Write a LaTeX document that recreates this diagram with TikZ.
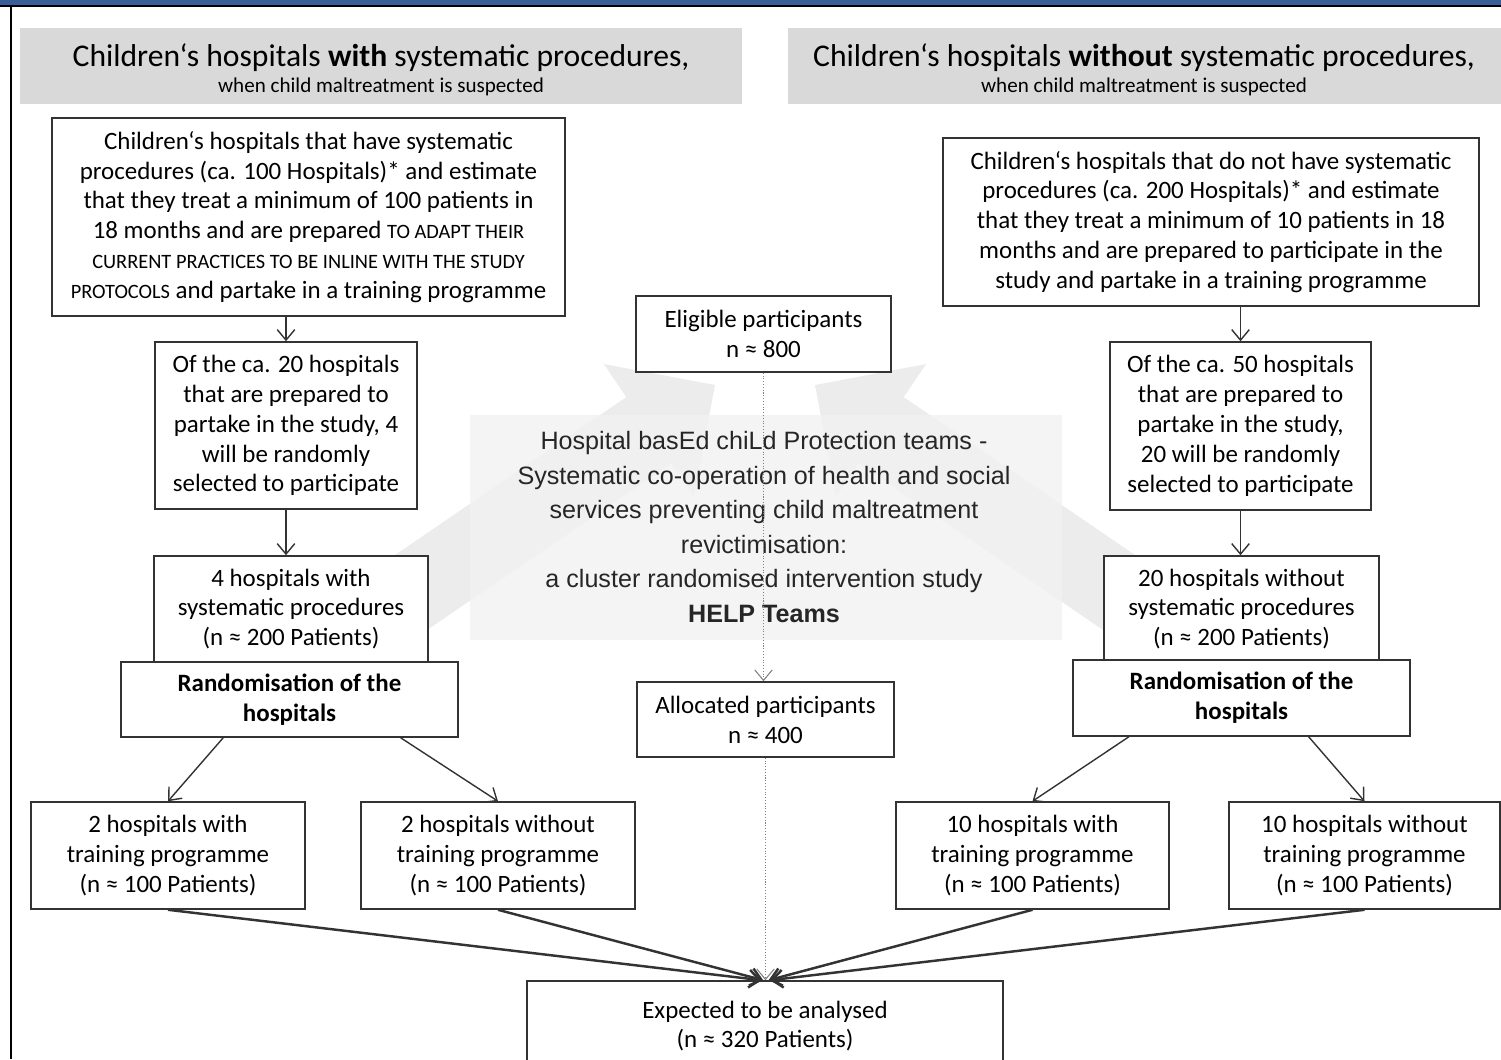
\documentclass[tikz,border=0pt]{standalone}
\usepackage{fontspec}
\setmainfont{Carlito}
\newfontfamily\arialfont{Liberation Sans}
\usetikzlibrary{arrows.meta}
\definecolor{framebl}{RGB}{58,94,154}
\definecolor{hdrgray}{RGB}{217,217,217}
\definecolor{boxline}{RGB}{51,51,51}
\definecolor{shadearrow}{RGB}{236,236,236}
\definecolor{shaderect}{RGB}{241,241,241}
\newcommand{\smallupper}[1]{{\fontsize{11.6}{17}\selectfont #1}}

\begin{document}
\begin{tikzpicture}[x=0.02cm, y=-0.02cm,
  box/.style={draw=boxline, line width=0.9pt, fill=white, align=center, inner sep=2pt,
    font=\fontsize{14.2}{17}\selectfont},
  hdr/.style={fill=hdrgray, align=center, minimum height=1.52cm, inner sep=0pt},
  arr/.style={draw=boxline, line width=0.8pt, -{Straight Barb[length=6pt,width=10pt]}},
  dots/.style={draw=gray, densely dotted, line width=0.6pt, -{Straight Barb[length=6pt,width=10pt]}},
  merge/.style={arr, line width=1.4pt}]
  \useasboundingbox (0,0) rectangle (1501,1059);

  % frame
  \fill[framebl] (0,0) rectangle (1501,5);
  \draw[line width=1pt] (0,6) -- (1501,6);
  \draw[line width=0.8pt] (11,6) -- (11,1059);

  % faint background arrows and study title
  \fill[shadearrow] (422.6,633) -- (671.5,463.1) -- (694,496.2) -- (715,385) -- (603.8,364) -- (626.3,397.1) -- (377.4,567) -- cycle;
  \fill[shadearrow] (1107.4,633) -- (858.5,463.1) -- (836,496.2) -- (815,385) -- (926.2,364) -- (903.7,397.1) -- (1152.6,567) -- cycle;
  \fill[shaderect, opacity=0.8] (470,415) rectangle (1062,640);
  \node[align=center, font=\arialfont\fontsize{14.3}{19.6}\selectfont, text=black!85] (title) at (764,527)
    {Hospital basEd chiLd Protection teams -\\
     Systematic co-operation of health  and social\\
     services preventing  child maltreatment\\
     revictimisation:\\
     a cluster  randomised intervention  study\\
     \textbf{HELP Teams}};

  % headers
  \fill[hdrgray] (20,28) rectangle (742,104);
  \fill[hdrgray] (788,28) rectangle (1501,104);
  \node[align=center, inner sep=0pt] (hdrL) at (381,70)
    {{\fontsize{18}{20}\selectfont Children‘s hospitals \textbf{with} systematic procedures,}\\[2.5pt]
     {\fontsize{12}{13}\selectfont when child maltreatment is suspected}};
  \node[align=center, inner sep=0pt] (hdrR) at (1144,70)
    {{\fontsize{18}{20}\selectfont Children‘s hospitals \textbf{without} systematic procedures,}\\[2.5pt]
     {\fontsize{12}{13}\selectfont when child maltreatment is suspected}};

  % left branch
  \node[box, minimum width=10.26cm, minimum height=3.96cm] (L1) at (308.5,217)
    {Children‘s hospitals that have systematic\\
     procedures (ca. 100 Hospitals)* and estimate\\
     that they treat a minimum  of 100 patients in\\
     18 months and are prepared \smallupper{TO ADAPT THEIR}\\
     \smallupper{CURRENT PRACTICES TO BE INLINE WITH THE STUDY}\\
     \smallupper{PROTOCOLS} and partake in a training programme};
  \node[box, minimum width=5.24cm, minimum height=3.34cm] (L2) at (286,425.5)
    {Of the ca. 20 hospitals\\ that are prepared to\\ partake in the study, 4\\
     will be randomly\\ selected to participate};
  \node[box, minimum width=5.48cm, minimum height=2.12cm] (L3) at (291,609)
    {4 hospitals with\\ systematic procedures\\ (n ≈ 200 Patients)};
  \node[box, minimum width=6.74cm, minimum height=1.5cm] (randL) at (289.5,699.5)
    {\textbf{Randomisation of the}\\ \textbf{hospitals}};
  \node[box, minimum width=5.48cm, minimum height=2.14cm] (L4a) at (168,855.5)
    {2 hospitals with\\ training programme\\ (n ≈ 100 Patients)};
  \node[box, minimum width=5.48cm, minimum height=2.14cm] (L4b) at (498,855.5)
    {2 hospitals without\\ training programme\\ (n ≈ 100 Patients)};

  % right branch
  \node[box, minimum width=10.72cm, minimum height=3.36cm] (R1) at (1211,222)
    {Children‘s hospitals that do not have systematic\\
     procedures (ca. 200 Hospitals)* and estimate\\
     that they treat a minimum  of 10 patients in 18\\
     months and are prepared to participate in the\\
     study and partake in a training programme};
  \node[box, minimum width=5.22cm, minimum height=3.36cm] (R2) at (1240.5,426)
    {Of the ca. 50 hospitals\\ that are prepared to\\ partake in the study,\\
     20 will be randomly\\ selected to participate};
  \node[box, minimum width=5.5cm, minimum height=2.12cm] (R3) at (1241.5,609)
    {20 hospitals without\\ systematic procedures\\ (n ≈ 200 Patients)};
  \node[box, minimum width=6.74cm, minimum height=1.52cm] (randR) at (1241.5,698)
    {\textbf{Randomisation of the}\\ \textbf{hospitals}};
  \node[box, minimum width=5.46cm, minimum height=2.14cm] (R4a) at (1032.5,855.5)
    {10 hospitals with\\ training programme\\ (n ≈ 100 Patients)};
  \node[box, minimum width=5.42cm, minimum height=2.14cm] (R4b) at (1364.5,855.5)
    {10 hospitals without\\ training programme\\ (n ≈ 100 Patients)};

  % middle column
  \node[box, minimum width=5.1cm, minimum height=1.52cm] (elig) at (763.5,334)
    {Eligible participants\\ n ≈ 800};
  \node[box, minimum width=5.14cm, minimum height=1.5cm] (alloc) at (765.5,719.5)
    {Allocated participants\\ n ≈ 400};
  \node[box, minimum width=9.52cm, minimum height=1.8cm] (expect) at (765,1026)
    {Expected to be analysed\\ (n ≈ 320 Patients)};

  % connectors
  \draw[arr] (L1.south -| L2.north) -- (L2.north);
  \draw[arr] (L2.south) -- (L2.south |- L3.north);
  \draw[arr] (R1.south -| R2.north) -- (R2.north);
  \draw[arr] (R2.south) -- (R2.south |- R3.north);
  \draw[arr] (randL.-150) -- (L4a.north);
  \draw[arr] (randL.-19) -- (L4b.north);
  \draw[arr] (randR.-161) -- (R4a.north);
  \draw[arr] (randR.-30) -- (R4b.north);
  \draw[dots] (elig.south) -- (elig.south |- alloc.north);
  \draw[dots] (alloc.south) -- (alloc.south |- expect.north);
  \draw[merge] (L4a.south) -- ([xshift=-2pt]expect.north);
  \draw[merge] (L4b.south) -- ([xshift=-1pt]expect.north);
  \draw[merge] (R4a.south) -- ([xshift=2pt]expect.north);
  \draw[merge] (R4b.south) -- ([xshift=3pt]expect.north);
\end{tikzpicture}
\end{document}
